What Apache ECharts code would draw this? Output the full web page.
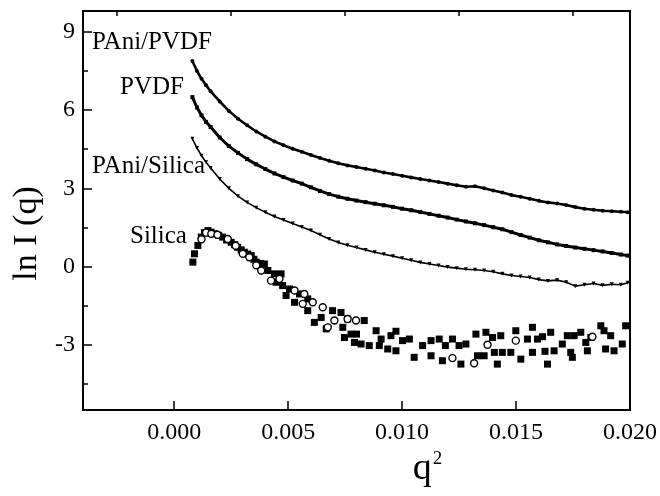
<!DOCTYPE html>
<html>
<head>
<meta charset="utf-8">
<script src="https://cdn.jsdelivr.net/npm/echarts@6/dist/echarts.min.js"></script>
<style>
html,body{margin:0;padding:0;background:#fff;}
#c{width:660px;height:496px;}
</style>
</head>
<body>
<div id="c"></div>
<script>
// ---- data ----
const xMajorTicks = [0, 0.005, 0.010, 0.015, 0.020];
const xMinorTicks = [-0.0025, 0.0025, 0.0075, 0.0125, 0.0175];
const yMajorTicks = [-3, 0, 3, 6, 9];
const yMinorTicks = [-4.5, -1.5, 1.5, 4.5, 7.5];

const q2 = [0.0008,0.0010,0.0012,0.0014,0.0016,0.0020,0.0024,0.0028,0.0032,0.0036,0.0040,0.0044,0.0048,0.0052,0.0056,0.0060,0.0064,0.0068,0.0072,0.0076,0.0080,0.0084,0.0088,0.0092,0.0096,0.0100,0.0104,0.0108,0.0112,0.0116,0.0120,0.0124,0.0128,0.0132,0.0136,0.0140,0.0144,0.0148,0.0152,0.0156,0.0160,0.0164,0.0168,0.0172,0.0176,0.0180,0.0184,0.0188,0.0192,0.0196,0.0199];

const paniPvdf = [7.88,7.50,7.20,6.95,6.72,6.33,5.97,5.67,5.42,5.18,4.98,4.80,4.65,4.52,4.40,4.28,4.16,4.06,3.96,3.88,3.82,3.75,3.68,3.61,3.55,3.48,3.42,3.36,3.30,3.24,3.18,3.12,3.06,3.08,3.00,2.92,2.84,2.74,2.68,2.60,2.52,2.46,2.42,2.36,2.28,2.22,2.18,2.14,2.12,2.10,2.08];

const pvdf = [6.50,6.10,5.80,5.55,5.35,4.95,4.62,4.36,4.12,3.92,3.74,3.57,3.43,3.30,3.18,3.04,2.90,2.78,2.68,2.60,2.53,2.47,2.41,2.35,2.29,2.22,2.16,2.09,2.02,1.95,1.88,1.80,1.73,1.66,1.59,1.51,1.43,1.32,1.21,1.11,1.01,0.93,0.85,0.79,0.73,0.68,0.63,0.58,0.52,0.46,0.42];

const paniSilica = [4.90,4.55,4.25,4.00,3.78,3.36,3.00,2.70,2.46,2.26,2.08,1.92,1.79,1.65,1.52,1.38,1.22,1.06,0.92,0.82,0.73,0.64,0.55,0.47,0.40,0.32,0.24,0.16,0.10,0.04,-0.02,-0.06,-0.10,-0.12,-0.15,-0.20,-0.28,-0.34,-0.38,-0.42,-0.50,-0.55,-0.52,-0.60,-0.75,-0.70,-0.65,-0.72,-0.68,-0.70,-0.62];

const silicaFilled = [[0.00082,0.17],[0.00089,0.49],[0.00104,0.81],[0.00119,1.13],[0.00133,1.30],[0.00148,1.38],[0.00162,1.32],[0.00177,1.26],[0.00195,1.20],[0.00213,1.13],[0.0023,1.02],[0.0025,0.93],[0.00265,0.84],[0.00279,0.74],[0.00294,0.64],[0.00308,0.55],[0.00323,0.48],[0.00338,0.42],[0.0035,0.28],[0.0036,0.17],[0.00378,0.12],[0.00396,0.10],[0.00411,-0.15],[0.0044,-0.28],[0.00469,-0.28],[0.00447,-0.60],[0.00476,-0.73],[0.00491,-1.11],[0.00506,-0.86],[0.00528,-1.37],[0.0055,-1.05],[0.00586,-1.24],[0.00586,-1.69],[0.00615,-2.14],[0.00645,-1.95],[0.00667,-2.39],[0.00695,-1.69],[0.00732,-1.76],[0.0074,-2.33],[0.00747,-2.72],[0.00761,-2.01],[0.00776,-2.59],[0.00791,-2.91],[0.00834,-2.07],[0.0080,-2.59],[0.0082,-2.97],[0.00856,-3.03],[0.00886,-2.46],[0.00908,-2.78],[0.0090,-3.03],[0.00937,-3.16],[0.00973,-3.23],[0.00951,-2.65],[0.00973,-2.48],[0.01002,-2.84],[0.01032,-2.78],[0.01053,-3.48],[0.0109,-3.03],[0.01127,-3.42],[0.01127,-2.84],[0.01163,-2.78],[0.01177,-3.61],[0.0119,-3.03],[0.01221,-2.78],[0.0125,-3.03],[0.01258,-3.74],[0.0128,-2.97],[0.01324,-2.59],[0.01331,-3.42],[0.0136,-3.42],[0.01368,-2.52],[0.01397,-2.72],[0.01405,-3.29],[0.01418,-3.74],[0.01433,-2.65],[0.0144,-3.29],[0.01477,-3.29],[0.01499,-2.46],[0.01521,-3.55],[0.0155,-2.78],[0.01572,-2.33],[0.01572,-3.29],[0.01594,-2.78],[0.01616,-2.69],[0.01627,-3.25],[0.01638,-3.74],[0.01652,-2.52],[0.01667,-3.23],[0.01703,-2.97],[0.01725,-2.65],[0.0174,-3.29],[0.01747,-3.48],[0.01755,-2.65],[0.01784,-2.52],[0.01806,-2.91],[0.01813,-3.23],[0.01828,-2.72],[0.01872,-2.27],[0.01886,-2.46],[0.01893,-3.16],[0.01915,-2.65],[0.0193,-3.23],[0.01966,-2.97],[0.01981,-2.27]];

const silicaOpen = [[0.00120,1.05],[0.00140,1.30],[0.00163,1.26],[0.0019,1.22],[0.00235,1.06],[0.0027,0.80],[0.00301,0.49],[0.0033,0.36],[0.0036,0.05],[0.00382,-0.15],[0.00425,-0.54],[0.00462,-0.47],[0.00528,-0.92],[0.00571,-1.05],[0.00564,-1.43],[0.00608,-1.37],[0.00652,-1.56],[0.00703,-2.07],[0.00798,-2.07],[0.00674,-2.33],[0.00761,-2.01],[0.01221,-3.51],[0.01316,-3.71],[0.01375,-3.0],[0.01499,-2.84],[0.01835,-2.69]];

const curveNames = ['PAni/PVDF', 'PVDF', 'PAni/Silica', 'Silica'];

// ---- chart ----
const pair = (ys) => q2.map((x, i) => [x, ys[i]]);
const FONT = '"Liberation Serif", "DejaVu Serif", serif';
const chart = echarts.init(document.getElementById('c'), null, {renderer: 'canvas'});

const xBase = {
  type: 'value', min: -0.004, max: 0.020, gridIndex: 0,
  splitLine: {show: false}
};
const yBase = {
  type: 'value', min: -5.5, max: 9.8, gridIndex: 0,
  splitLine: {show: false}
};

chart.setOption({
  backgroundColor: '#fff',
  animation: false,
  grid: {left: 83, right: 29, top: 11, bottom: 86, show: true, borderColor: '#000', borderWidth: 2, backgroundColor: 'transparent'},
  xAxis: [
    Object.assign({}, xBase, {
      name: '{q|q}{s|2}', nameLocation: 'middle', nameGap: 34,
      nameTextStyle: {padding: [0, 0, 0, 142], rich: {q: {fontFamily: FONT, fontSize: 38, color: '#000'}, s: {fontFamily: FONT, fontSize: 19, color: '#000', verticalAlign: 'top', padding: [0,0,20,1]}}},
      axisLine: {show: true, onZero: false, lineStyle: {color: '#000', width: 2}},
      axisTick: {show: true, inside: true, length: 9, customValues: xMajorTicks, lineStyle: {color: '#000', width: 1.5}},
      axisLabel: {show: true, customValues: xMajorTicks, margin: 11, fontFamily: FONT, fontSize: 24, color: '#000', formatter: v => v.toFixed(3)}
    }),
    Object.assign({}, xBase, {
      axisLine: {show: false, onZero: false},
      axisTick: {show: true, inside: true, length: 5, customValues: xMinorTicks, lineStyle: {color: '#000', width: 1.5}},
      axisLabel: {show: false}
    })
  ],
  yAxis: [
    Object.assign({}, yBase, {
      name: 'ln I (q)', nameLocation: 'middle', nameGap: 37, nameRotate: 90,
      nameTextStyle: {fontFamily: FONT, fontSize: 34, color: '#000', padding: [0, 46, 0, 0]},
      axisLine: {show: true, onZero: false, lineStyle: {color: '#000', width: 2}},
      axisTick: {show: true, inside: true, length: 9, customValues: yMajorTicks, lineStyle: {color: '#000', width: 1.5}},
      axisLabel: {show: true, customValues: yMajorTicks, margin: 8, fontFamily: FONT, fontSize: 24, color: '#000'}
    }),
    Object.assign({}, yBase, {
      position: 'left',
      axisLine: {show: false, onZero: false},
      axisTick: {show: true, inside: true, length: 5, customValues: yMinorTicks, lineStyle: {color: '#000', width: 1.5}},
      axisLabel: {show: false}
    })
  ],
  series: [
    {name: curveNames[0], type: 'line', data: pair(paniPvdf), symbol: 'circle', symbolSize: 4, showSymbol: true,
     lineStyle: {color: '#000', width: 2.6}, itemStyle: {color: '#000'}},
    {name: curveNames[1], type: 'line', data: pair(pvdf), symbol: 'rect', symbolSize: 4, showSymbol: true,
     lineStyle: {color: '#000', width: 3}, itemStyle: {color: '#000'}},
    {name: curveNames[2], type: 'line', data: pair(paniSilica), symbol: 'triangle', symbolRotate: 180, symbolSize: 4, showSymbol: true,
     lineStyle: {color: '#000', width: 1.6}, itemStyle: {color: '#000'}},
    {name: curveNames[3], type: 'scatter', data: silicaFilled, symbol: 'rect', symbolSize: 7,
     itemStyle: {color: '#000', opacity: 1}},
    {name: curveNames[3] + ' (open)', type: 'scatter', data: silicaOpen, symbol: 'circle', symbolSize: 7,
     itemStyle: {color: '#fff', borderColor: '#000', borderWidth: 1.4, opacity: 1}}
  ],
  graphic: [
    {type: 'text', x: 92, y: 42, style: {text: curveNames[0], font: '25px ' + FONT, fill: '#000', textVerticalAlign: 'middle'}},
    {type: 'text', x: 120, y: 87, style: {text: curveNames[1], font: '25px ' + FONT, fill: '#000', textVerticalAlign: 'middle'}},
    {type: 'text', x: 92, y: 166, style: {text: curveNames[2], font: '25px ' + FONT, fill: '#000', textVerticalAlign: 'middle'}},
    {type: 'text', x: 130, y: 236, style: {text: curveNames[3], font: '25px ' + FONT, fill: '#000', textVerticalAlign: 'middle'}}
  ]
});
</script>
</body>
</html>
